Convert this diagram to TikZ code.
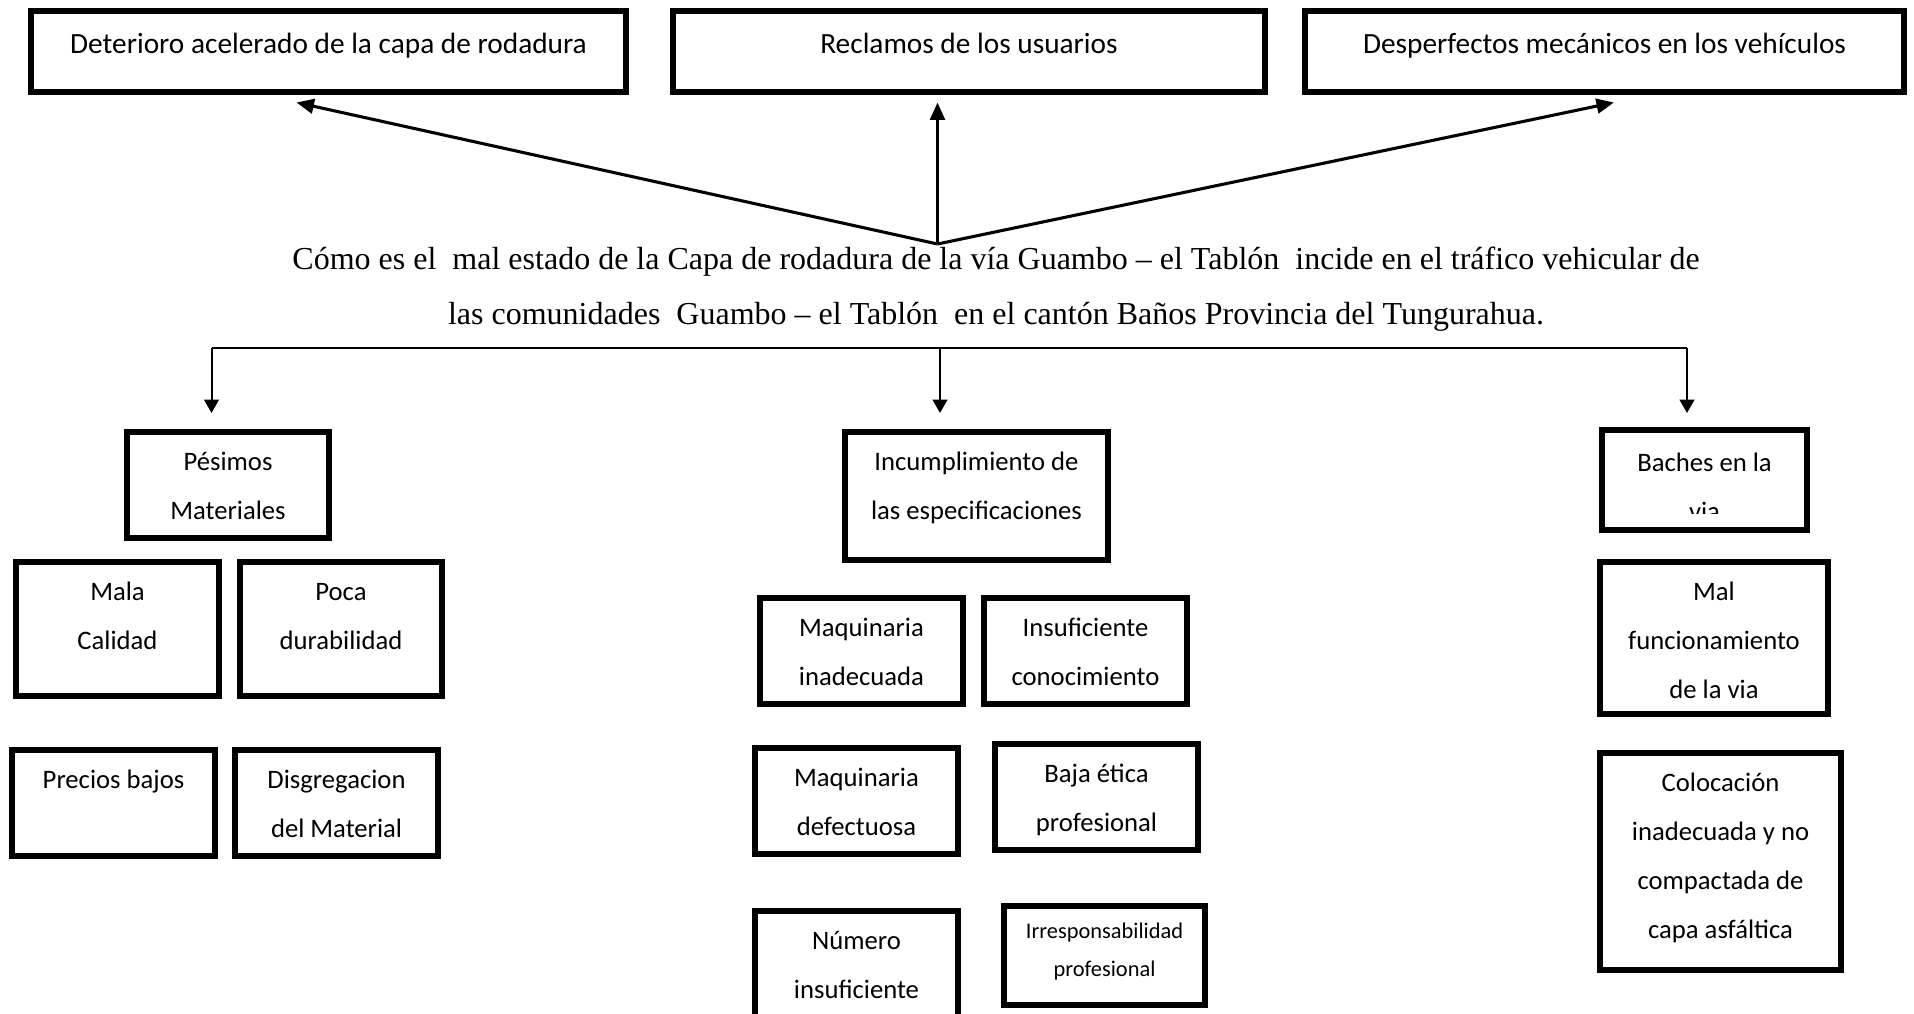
\documentclass[tikz,border=0pt]{standalone}
\usepackage{fontspec}
\setmainfont{Carlito}
\newfontfamily\probfont{Liberation Serif}
\usetikzlibrary{arrows.meta}

\begin{document}
\begin{tikzpicture}[x=0.375pt, y=-0.375pt,
    box/.style 2 args={draw, line width=2.25pt, inner sep=0pt, anchor=north west,
      xshift=1.125pt, yshift=-1.125pt, align=flush center,
      text width={(#1-6)*0.375pt}, text height=14.5pt,
      text depth={(#2-6)*0.375pt-14.5pt},
      font=\fontsize{10}{18.3}\selectfont},
    effect/.style={font=\fontsize{11}{18}\selectfont, text height=16pt, text depth=14.3pt},
    up/.style={line width=1.15pt, -{Triangle[length=6.5pt,width=5.5pt]}},
    down/.style={line width=0.75pt, -{Triangle[length=5pt,width=5.5pt]}}]
    \useasboundingbox (0,0) rectangle (1914,1013);

    % Effects
    \node[box={601}{87}, effect] (deter) at (25,5) {Deterioro acelerado de la capa de rodadura};
    \node[box={598}{87}, effect] (recl) at (667,5) {Reclamos de los usuarios};
    \node[box={605}{87}, effect] (desp) at (1299,5) {Desperfectos mecánicos en los vehículos};

    % Problem
    \node[font=\probfont\fontsize{12}{20.6}\selectfont, text width=600pt, align=flush center, anchor=base] (prob) at (996,269.3)
        {Cómo es el\ \ mal estado de la Capa de rodadura de la vía Guambo – el Tablón\ \ incide en el tráfico vehicular de\\
         las comunidades\ \ Guambo – el Tablón\ \ en el cantón Baños Provincia del Tungurahua.};

    % Arrows up
    \coordinate (hub) at (937.5,244);
    \coordinate (tipA) at (296.6,102.5);
    \coordinate (tipB) at (937.5,102.5);
    \coordinate (tipC) at (1613.8,102.5);
    \foreach \t in {tipA,tipB,tipC}
        \draw[up] (hub) -- (\t);

    % Arrows down
    \coordinate (barL) at (211.5,348);
    \coordinate (barM) at (940,348);
    \coordinate (barR) at (1687,348);
    \draw[line width=0.8pt] (barL) -- (barR);
    \foreach \b in {barL,barM,barR}
        \draw[down] (\b) -- ++(0,65);

    % Causes, left
    \node[box={208}{112}] (pes) at (121,426) {Pésimos\\Materiales};
    \node[box={209}{140}] (mala) at (10,556) {Mala\\Calidad};
    \node[box={208}{140}] (poca) at (234,556) {Poca\\durabilidad};
    \node[box={209}{112}] (prec) at (6,744) {Precios bajos};
    \node[box={209}{112}] (disg) at (229,744) {Disgregacion\\del Material};

    % Causes, middle
    \node[box={269}{134}] (inc) at (839,426) {Incumplimiento de\\las especificaciones};
    \node[box={209}{112}] (maqi) at (754,592) {Maquinaria\\inadecuada};
    \node[box={209}{112}] (insu) at (978,592) {Insuficiente\\conocimiento};
    \node[box={209}{112}] (maqd) at (749,742) {Maquinaria\\defectuosa};
    \node[box={209}{112}] (baja) at (989,738) {Baja ética\\profesional};
    \node[box={209}{125}] (num) at (749,905) {Número\\insuficiente};
    \node[box={207}{108}, text height=12pt, text depth=25.3pt,
          font=\fontsize{8.4}{14.6}\selectfont] (irre) at (998,900) {Irresponsabilidad\\profesional};

    % Causes, right
    \begin{scope}
        \clip (1590,420) rectangle (1810,513);
        \node[box={205}{100}, draw=none] (bac) at (1599,427) {Baches en la\\via};
    \end{scope}
    \draw[line width=2.25pt] (bac.north west) rectangle (bac.south east);
    \node[box={234}{158}] (malf) at (1594,556) {Mal\\funcionamiento\\de la via};
    \node[box={247}{223}] (colo) at (1594,747) {Colocación\\inadecuada y no\\compactada de\\capa asfáltica};
\end{tikzpicture}
\end{document}
